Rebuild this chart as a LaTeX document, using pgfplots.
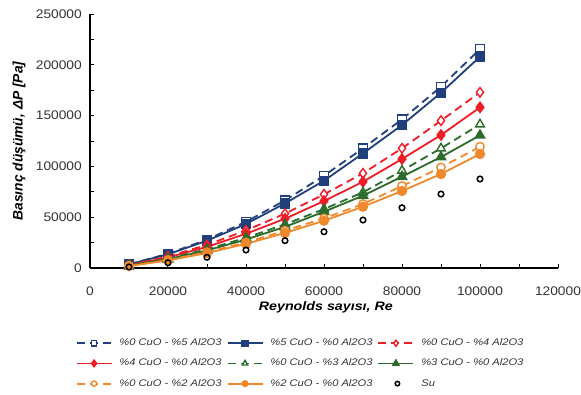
\documentclass[border=0pt]{standalone}
\usepackage{pgfplots}
\pgfplotsset{compat=1.18}
\usepackage{fontspec}
\setmainfont{Liberation Sans}
\newfontfamily\sfx[FakeStretch=1.16]{Liberation Sans}
\newfontfamily\sft[FakeStretch=1.1]{Liberation Sans}
\definecolor{cblue}{HTML}{1F3F7D}
\definecolor{cred}{HTML}{EE1C25}
\definecolor{cgreen}{HTML}{2B6B2B}
\definecolor{corange}{HTML}{F0892B}
\definecolor{ctext}{HTML}{333333}
\pgfplotsset{sulegend/.style={legend image code/.code={\draw[##1,every mark/.append style={scale=0.8}] plot coordinates {(19pt,0pt)};}}}
\begin{document}
\begin{tikzpicture}
\path[use as bounding box] (-90pt,-126pt) rectangle (491pt,268pt);
\begin{axis}[
 at={(0,0)}, anchor=south west, scale only axis, width=468pt, height=254pt,
 xmin=0, xmax=120000, ymin=0, ymax=250000,
 axis x line=bottom, axis y line=left,
 axis line style={-, line width=1.6pt, black},
 xtick={0,20000,...,120000}, minor xtick={10000,30000,...,110000},
 ytick={0,50000,...,250000}, minor ytick={25000,75000,...,225000},
 tick align=inside, major tick length=4pt, minor tick length=4pt,
 tick style={black, line width=1pt},
 scaled ticks=false,
 /pgf/number format/fixed,
 /pgf/number format/1000 sep={},
 /pgf/number format/assume math mode=true,
 ticklabel style={font=\sft\fontsize{12.5}{14}\selectfont, inner sep=0pt, text=ctext},
 xticklabel style={anchor=center, yshift=-23.5pt},
 yticklabel style={anchor=east, xshift=-8pt},
 xlabel={Reynolds sayısı, Re},
 ylabel={Basınç düşümü, ΔP [Pa]},
 every axis x label/.style={at={(axis description cs:0.504,-0.1555)}, anchor=center, font=\sfx\fontsize{12.3}{14}\selectfont\bfseries\itshape},
 every axis y label/.style={at={(axis description cs:-0.1517,0.5)}, rotate=90, anchor=center, font=\fontsize{13.8}{15}\selectfont\bfseries\itshape},
 legend columns=3,
 legend cell align=left,
 legend style={at={(axis description cs:-0.031,-0.2776)}, anchor=north west, draw=none, inner sep=0pt,
   font=\sfx\fontsize{9.6}{12}\selectfont\itshape, text=ctext, row sep=11.2pt,
   nodes={inner sep=0pt, text height=7pt, text depth=2pt},
   /tikz/every odd column/.append style={column sep=7pt},
   /tikz/every even column/.append style={column sep=5pt}},
 legend image code/.code={\draw[mark repeat=2,mark phase=2,#1,every mark/.append style={scale=0.62}] plot coordinates {(0pt,0pt)(17.5pt,0pt)(35pt,0pt)};},
]
\addplot[cblue, line width=1.8pt, dash pattern=on 8pt off 5pt, mark=square*, mark size=4.3pt, mark options={solid, fill=white, draw=cblue, line width=1.4pt}] coordinates {
(10000,3700)(20000,14000)(30000,28000)(40000,45500)(50000,66500)(60000,90800)(70000,117800)(80000,146300)(90000,178400)(100000,215500)};
\addlegendentry{\%0 CuO - \%5 Al2O3}
\addplot[cblue, line width=1.8pt, mark=square*, mark size=4.3pt, mark options={solid, fill=cblue, draw=cblue}] coordinates {
(10000,3600)(20000,13500)(30000,26900)(40000,43300)(50000,63600)(60000,85900)(70000,112800)(80000,140700)(90000,172500)(100000,208000)};
\addlegendentry{\%5 CuO - \%0 Al2O3}
\addplot[cred, line width=1.8pt, dash pattern=on 8pt off 5pt, mark=diamond*, mark size=4.8pt, mark options={solid, fill=white, draw=cred, line width=1.4pt}] coordinates {
(10000,3000)(20000,11300)(30000,22800)(40000,37000)(50000,53500)(60000,72500)(70000,93200)(80000,117800)(90000,145000)(100000,172900)};
\addlegendentry{\%0 CuO - \%4 Al2O3}
\addplot[cred, line width=1.8pt, mark=diamond*, mark size=4.8pt, mark options={solid, fill=cred, draw=cred}] coordinates {
(10000,2800)(20000,10400)(30000,20800)(40000,33700)(50000,48500)(60000,65900)(70000,84900)(80000,107300)(90000,130900)(100000,158100)};
\addlegendentry{\%4 CuO - \%0 Al2O3}
\addplot[cgreen, line width=1.8pt, dash pattern=on 8pt off 5pt, mark=triangle*, mark size=5pt, mark options={solid, fill=white, draw=cgreen, line width=1.4pt}] coordinates {
(10000,2500)(20000,9200)(30000,18400)(40000,29800)(50000,43000)(60000,58000)(70000,74500)(80000,95800)(90000,117800)(100000,141400)};
\addlegendentry{\%0 CuO - \%3 Al2O3}
\addplot[cgreen, line width=1.8pt, mark=triangle*, mark size=5pt, mark options={solid, fill=cgreen, draw=cgreen}] coordinates {
(10000,2300)(20000,8700)(30000,17300)(40000,28000)(50000,40500)(60000,55400)(70000,71200)(80000,89900)(90000,109200)(100000,130600)};
\addlegendentry{\%3 CuO - \%0 Al2O3}
\addplot[corange, line width=1.8pt, dash pattern=on 8pt off 5pt, mark=*, mark size=4.2pt, mark options={solid, fill=white, draw=corange, line width=1.4pt}] coordinates {
(10000,2100)(20000,7800)(30000,15600)(40000,25200)(50000,36800)(60000,48900)(70000,63000)(80000,80700)(90000,99000)(100000,119400)};
\addlegendentry{\%0 CuO - \%2 Al2O3}
\addplot[corange, line width=1.8pt, mark=*, mark size=4.2pt, mark options={solid, fill=corange, draw=corange}] coordinates {
(10000,2000)(20000,7400)(30000,14700)(40000,23800)(50000,34500)(60000,46500)(70000,60300)(80000,75800)(90000,92500)(100000,112200)};
\addlegendentry{\%2 CuO - \%0 Al2O3}
\addplot[black, only marks, mark=o, mark size=2.8pt, line width=1.5pt, sulegend] coordinates {
(10000,1000)(20000,5200)(30000,10500)(40000,17700)(50000,26900)(60000,35700)(70000,47200)(80000,59300)(90000,72800)(100000,87600)};
\addlegendentry{Su}
\end{axis}
\end{tikzpicture}
\end{document}
